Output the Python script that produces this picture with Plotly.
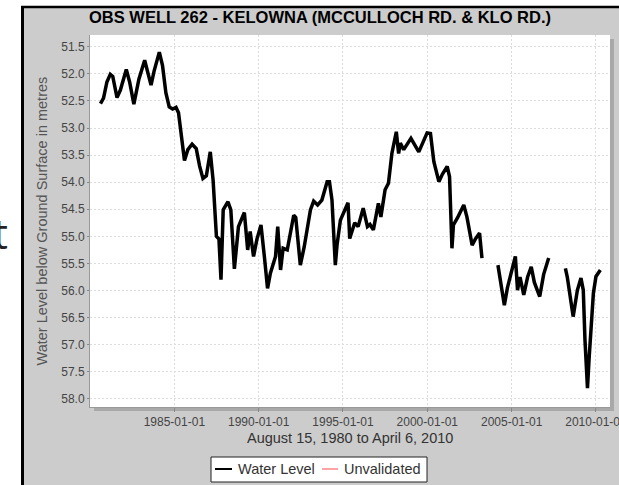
import plotly.graph_objects as go

# Observation well 262 water level record (metres below ground surface)
dates = [
    "1980-08-15", "1980-10-20", "1981-01-01", "1981-03-15", "1981-05-08", "1981-08-08",
    "1981-10-20", "1982-02-25", "1982-05-08", "1982-08-08", "1982-11-25", "1983-03-30",
    "1983-08-15", "1983-10-20", "1984-02-10", "1984-04-20", "1984-07-01", "1984-09-12",
    "1984-11-25", "1985-02-06", "1985-04-01", "1985-05-27", "1985-08-08", "1985-10-20",
    "1986-01-20", "1986-04-20", "1986-07-01", "1986-09-12", "1986-11-25", "1987-02-18",
    "1987-04-20", "1987-07-01", "1987-08-25", "1987-10-08", "1987-11-25", "1988-03-07",
    "1988-05-08", "1988-07-24", "1988-10-20", "1989-02-25", "1989-05-08", "1989-07-01",
    "1989-09-12", "1989-11-25", "1990-02-20", "1990-05-08", "1990-07-12", "1990-09-12",
    "1991-01-01", "1991-02-18", "1991-04-20", "1991-06-14", "1991-09-12", "1992-01-30",
    "1992-03-14", "1992-06-21", "1992-09-12", "1993-01-26", "1993-04-06", "1993-07-01",
    "1993-10-01", "1994-01-23", "1994-03-14", "1994-05-08", "1994-07-19", "1994-08-25",
    "1994-11-06", "1995-04-20", "1995-05-27", "1995-09-12", "1995-11-25", "1996-03-14",
    "1996-06-14", "1996-08-08", "1996-10-20", "1997-02-06", "1997-04-01", "1997-07-01",
    "1997-09-12", "1997-11-25", "1998-03-01", "1998-04-20", "1998-05-27", "1998-08-08",
    "1999-01-12", "1999-07-01", "1999-12-28", "2000-03-10", "2000-05-22", "2000-09-08",
    "2000-11-25", "2001-03-07", "2001-04-27", "2001-06-18", "2001-07-20", "2001-10-20",
    "2002-03-01", "2002-05-08", "2002-08-29", "2002-11-06", "2003-02-06", "2003-03-30",
    "2003-09-01",
    "2004-03-10", "2004-05-27", "2004-07-27", "2004-10-01", "2004-12-06", "2005-03-22",
    "2005-05-08", "2005-07-01", "2005-09-20", "2005-12-13", "2006-03-01", "2006-05-08",
    "2006-09-01", "2006-11-25", "2007-03-14",
    "2007-09-01",
    "2008-03-10", "2008-04-20", "2008-08-25", "2008-11-25", "2009-02-10", "2009-04-01",
    "2009-05-08", "2009-07-01", "2009-08-08", "2009-11-06", "2010-01-01", "2010-03-14",
    "2010-04-06",
]
water_level = [
    52.55, 52.45, 52.15, 52.01, 52.05, 52.44,
    52.30, 51.92, 52.15, 52.56, 52.10, 51.75,
    52.21, 51.95, 51.60, 51.85, 52.35, 52.61,
    52.65, 52.62, 52.72, 53.07, 53.60, 53.40,
    53.30, 53.38, 53.70, 53.93, 53.88, 53.44,
    53.96, 55.00, 55.05, 55.80, 54.51, 54.36,
    54.51, 55.60, 54.82, 54.56, 55.25, 54.91,
    55.37, 55.05, 54.79, 55.40, 55.96, 55.68,
    55.37, 54.82, 55.62, 55.22, 55.25, 54.61,
    54.65, 55.53, 55.20, 54.51, 54.35, 54.42,
    54.33, 53.99, 53.99, 54.33, 55.53, 55.16,
    54.70, 54.38, 55.04, 54.75, 54.82, 54.48,
    54.82, 54.78, 54.88, 54.39, 54.64, 54.14,
    54.02, 53.47, 53.07, 53.47, 53.28, 53.40,
    53.19, 53.44, 53.09, 53.10, 53.62, 53.99,
    53.85, 53.71, 53.90, 55.22, 54.79, 54.65,
    54.42, 54.64, 55.16, 55.05, 54.94, 55.40,
    None,
    55.53, 55.90, 56.27, 55.95, 55.74, 55.37,
    55.99, 55.75, 56.08, 55.75, 55.56, 55.85,
    56.11, 55.70, 55.40,
    None,
    55.59, 55.75, 56.48, 55.99, 55.77, 55.99,
    56.91, 57.80, 57.22, 56.05, 55.74, 55.65,
    55.62,
]
unvalidated_dates = []
unvalidated_level = []

series_names = ["Water Level", "Unvalidated"]
series_colors = ["black", "#ff4a4a"]

y_ticks = [51.5, 52.0, 52.5, 53.0, 53.5, 54.0, 54.5, 55.0, 55.5, 56.0, 56.5, 57.0, 57.5, 58.0]
x_ticks = ["1985-01-01", "1990-01-01", "1995-01-01", "2000-01-01", "2005-01-01", "2010-01-01"]

W, H = 619, 485
L, R, T, B = 90, 9, 35, 78
PW, PH = W - L - R, H - T - B


def px(x):
    return (x - L) / PW


def py(y):
    return (H - B - y) / PH


FONT = "Liberation Sans, Arial, sans-serif"

fig = go.Figure()
fig.add_trace(go.Scatter(
    x=dates, y=water_level, mode="lines", name=series_names[0],
    line=dict(color=series_colors[0], width=3.5), connectgaps=False, showlegend=False,
))
fig.add_trace(go.Scatter(
    x=unvalidated_dates, y=unvalidated_level, mode="lines", name=series_names[1],
    line=dict(color=series_colors[1], width=1), showlegend=False,
))

grid = dict(gridcolor="#dcdcdc", griddash="2px,2px", gridwidth=1)

fig.update_xaxes(
    type="date", range=["1980-01-01", "2010-11-01"],
    tickvals=x_ticks, ticktext=x_ticks, ticklabeloverflow="allow", automargin=False,
    ticks="outside", ticklen=4, tickcolor="#888",
    showline=True, linecolor="#999", linewidth=1,
    tickfont=dict(family=FONT, size=12, color="#444"),
    zeroline=False, **grid,
)
fig.update_yaxes(
    range=[58.148, 51.284], automargin=False,
    tickvals=y_ticks, ticktext=[f"{v:.1f}" for v in y_ticks],
    ticks="outside", ticklen=2, tickcolor="#888",
    showline=True, linecolor="#999", linewidth=1,
    tickfont=dict(family=FONT, size=12, color="#444"),
    zeroline=False, **grid,
)

# legend box geometry (pixels)
LEG_X0, LEG_X1, LEG_Y0, LEG_Y1, LEG_YC = 211, 427, 457, 482, 469
leg_items = [(215, 232, 236), (322, 338, 342)]  # line start, line end, text start

shapes = [
    # white strips outside the chart frame
    dict(type="rect", xref="paper", yref="paper", x0=px(-5), x1=px(21), y0=py(490), y1=py(-5),
         fillcolor="white", line_width=0, layer="below"),
    dict(type="rect", xref="paper", yref="paper", x0=px(-5), x1=px(625), y0=py(6), y1=py(-5),
         fillcolor="white", line_width=0, layer="below"),
    # plot area drop shadow and white panel
    dict(type="rect", xref="paper", yref="paper", x0=px(L + 4), x1=px(W - R + 4),
         y0=py(H - B + 4), y1=py(T + 4), fillcolor="#a8a8a8", line_width=0, layer="below"),
    dict(type="rect", xref="paper", yref="paper", x0=0, x1=1, y0=0, y1=1,
         fillcolor="white", line_width=0, layer="below"),
    # black frame edges
    dict(type="line", xref="paper", yref="paper", x0=px(22.5), x1=px(22.5), y0=py(490), y1=py(6),
         line=dict(color="black", width=3)),
    dict(type="line", xref="paper", yref="paper", x0=px(21), x1=px(625), y0=py(7), y1=py(7),
         line=dict(color="black", width=2.5)),
    # legend box
    dict(type="rect", xref="paper", yref="paper", x0=px(LEG_X0), x1=px(LEG_X1),
         y0=py(LEG_Y1), y1=py(LEG_Y0), fillcolor="white", line=dict(color="#222", width=1)),
]
for (lx0, lx1, _), color in zip(leg_items, series_colors):
    shapes.append(dict(type="line", xref="paper", yref="paper", x0=px(lx0), x1=px(lx1),
                       y0=py(LEG_YC), y1=py(LEG_YC),
                       line=dict(color=color, width=2 if color == "black" else 1)))

annotations = [
    dict(text="<b>OBS WELL 262 - KELOWNA (MCCULLOCH RD. &amp; KLO RD.)</b>",
         x=px(320), y=py(17), xref="paper", yref="paper", showarrow=False,
         xanchor="center", yanchor="middle", font=dict(family=FONT, size=16.5, color="black")),
    dict(text="August 15, 1980 to April 6, 2010",
         x=px(350), y=py(438), xref="paper", yref="paper", showarrow=False,
         xanchor="center", yanchor="middle", font=dict(family=FONT, size=14.5, color="#333")),
    dict(text="Water Level below Ground Surface in metres", textangle=-90,
         x=px(41.5), y=py(221), xref="paper", yref="paper", showarrow=False,
         xanchor="center", yanchor="middle", font=dict(family=FONT, size=14.5, color="#555")),
    dict(text="t", x=px(10), y=py(232), xref="paper", yref="paper", showarrow=False,
         xanchor="right", yanchor="middle", font=dict(family="Open Sans, sans-serif", size=42, color="#222")),
]
for (_, _, tx), name in zip(leg_items, series_names):
    annotations.append(dict(text=name, x=px(tx), y=py(LEG_YC), xref="paper", yref="paper",
                            showarrow=False, xanchor="left", yanchor="middle",
                            font=dict(family=FONT, size=14.5, color="#333")))

fig.update_layout(
    width=W, height=H,
    margin=dict(l=L, r=R, t=T, b=B, pad=0, autoexpand=False),
    paper_bgcolor="#cccccc", plot_bgcolor="rgba(0,0,0,0)",
    shapes=shapes, annotations=annotations,
    showlegend=False,
)

fig.write_html("out.html")
